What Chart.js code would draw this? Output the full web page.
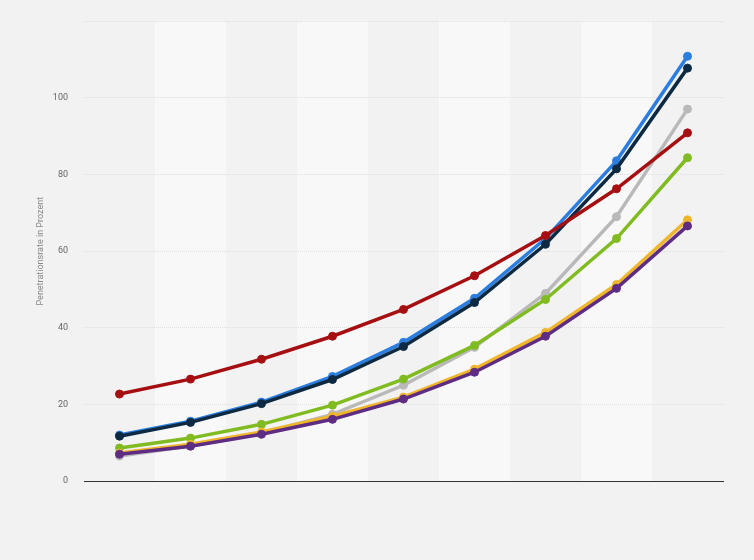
<!DOCTYPE html>
<html>
<head>
<meta charset="UTF-8">
<title>Penetrationsrate</title>
<script src="https://cdn.jsdelivr.net/npm/chart.js@4/dist/chart.umd.min.js"></script>
<style>
  html, body {
    margin: 0;
    padding: 0;
    background-color: #f2f2f2;
  }
  #chart_field {
    width: 754px;
    height: 560px;
  }
</style>
</head>
<body>
<div id="chart_field">
  <canvas id="mychart" width="754" height="560"></canvas>
</div>
<script>

const labelsList = ['1', '2', '3', '4', '5', '6', '7', '8', '9'];
const yTickValues = [0, 20, 40, 60, 80, 100];
const Y_TITLE = 'Penetrationsrate in Prozent';

const redList    = [22.7, 26.6, 31.8, 37.8, 44.8, 53.6, 64.1, 76.3, 90.9];
const blueList   = [12.0, 15.6, 20.6, 27.3, 36.2, 47.7, 63.3, 83.6, 110.9];
const navyList   = [11.7, 15.3, 20.2, 26.5, 35.1, 46.6, 61.8, 81.5, 107.8];
const grayList   = [6.5, 9.1, 12.5, 17.4, 25.0, 34.9, 49.0, 69.0, 97.1];
const greenList  = [8.6, 11.2, 14.8, 19.8, 26.6, 35.4, 47.4, 63.3, 84.4];
const yellowList = [7.3, 9.6, 12.8, 16.9, 21.9, 29.2, 38.8, 51.3, 68.2];
const purpleList = [7.0, 9.1, 12.2, 16.1, 21.4, 28.4, 37.8, 50.3, 66.6];

// lighter column stripes behind every second category
const stripes = {
  id: 'stripes',
  beforeDraw(chart) {
    const {ctx, chartArea, scales} = chart;
    const x = scales.x;
    const half = (x.getPixelForValue(1) - x.getPixelForValue(0)) / 2;
    ctx.save();
    ctx.fillStyle = '#f8f8f8';
    for (let i = 1; i < labelsList.length; i += 2) {
      const c = x.getPixelForValue(i);
      ctx.fillRect(c - half, chartArea.top, half * 2, chartArea.bottom - chartArea.top);
    }
    ctx.restore();
  }
};

function makeSet(data, color) {
  return {
    data: data,
    borderColor: color,
    backgroundColor: color,
    borderWidth: 3.5,
    pointRadius: 4,
    pointBorderWidth: 1,
    pointHoverRadius: 4,
    tension: 0,
  };
}

// first dataset is painted on top
let ctx = document.getElementById('mychart');
new Chart(ctx, {
  type: 'line',
  data: {
    labels: labelsList,
    datasets: [
      makeSet(purpleList, '#5e2c82'),
      makeSet(yellowList, '#efb62c'),
      makeSet(redList, '#a60f12'),
      makeSet(navyList, '#0e2a42'),
      makeSet(blueList, '#2b7ddf'),
      makeSet(greenList, '#80bb22'),
      makeSet(grayList, '#b9b9b9'),
    ],
  },
  plugins: [stripes],
  options: {
    responsive: false,
    animation: false,
    devicePixelRatio: 1,
    layout: {
      padding: {left: 35, right: 31, top: 20, bottom: 71},
    },
    plugins: {
      legend: {display: false},
      tooltip: {enabled: false},
    },
    scales: {
      x: {
        offset: true,
        ticks: {display: false},
        grid: {display: false},
        border: {display: true, color: '#333333', width: 1},
      },
      y: {
        min: 0,
        max: 120,
        afterFit(scale) { scale.width = 49; },
        afterBuildTicks(scale) {
          scale.ticks = [...yTickValues, 120].map(v => ({value: v}));
        },
        ticks: {
          padding: 16,
          color: '#666666',
          font: {family: 'Roboto', size: 9},
          callback: v => (yTickValues.includes(v) ? String(v) : ''),
        },
        grid: {
          color: '#dedede',
          drawTicks: false,
        },
        border: {display: false, dash: [1, 1]},
        title: {
          display: true,
          text: Y_TITLE,
          color: '#888888',
          font: {family: 'Roboto', size: 9},
          padding: 0,
        },
      },
    },
  },
});
</script>
</body>
</html>
